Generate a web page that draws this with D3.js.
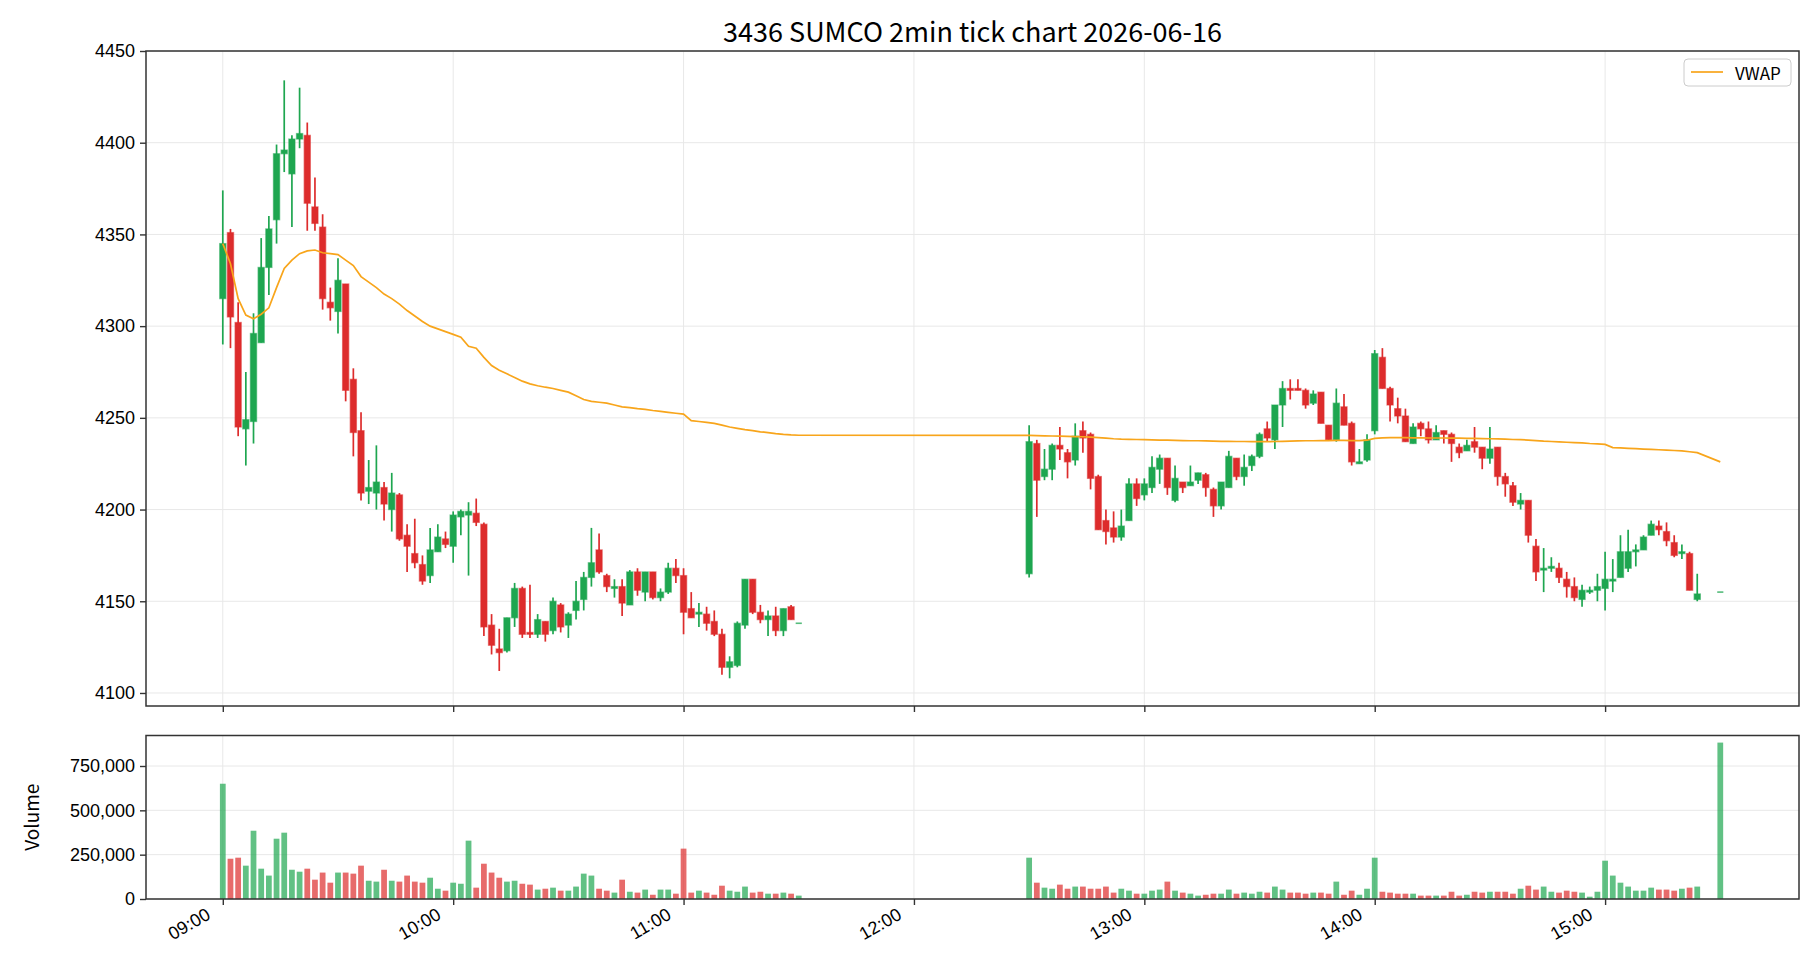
<!DOCTYPE html>
<html lang="en">
<head>
<meta charset="UTF-8">
<title>3436 SUMCO 2min tick chart 2026-06-16</title>
<script src="https://d3js.org/d3.v7.min.js"></script>
<style>
  body { margin: 0; background: #ffffff; }
  svg { font-family: "Noto Sans CJK JP", "Noto Sans", sans-serif; }
  .axis text { font-size: 18px; fill: #000; }
  .axis line { stroke: #333; stroke-width: 1.4; }
  .axis path { display: none; }
  .grid line { stroke: #e8e8e8; stroke-width: 1; }
  .frame { fill: none; stroke: #333; stroke-width: 1.5; }
</style>
</head>
<body>
<script>
// trading sessions, 2-minute bars (closing auction at 15:30)
const sessions = [["09:00", "11:30"], ["12:30", "15:24"], ["15:30", "15:30"]];

// OHLC, morning then afternoon
const opens = [
  4315, 4351, 4302, 4244, 4248, 4291, 4332, 4358, 4394, 4383, 4402, 4404, 4365, 4354, 4313, 4308,
  4323, 4271, 4243, 4210, 4209, 4212, 4200, 4208, 4186, 4176, 4170, 4164, 4177, 4184, 4180, 4196,
  4197, 4198, 4192, 4137, 4124, 4123, 4141, 4157, 4133, 4132, 4139, 4134, 4148, 4137, 4145, 4151,
  4163, 4178, 4164, 4157, 4158, 4148, 4166, 4155, 4166, 4152, 4155, 4168, 4164, 4146, 4143, 4143,
  4139, 4132, 4114, 4115, 4137, 4162, 4144, 4140, 4142, 4134, 4147, 4138,
  4165, 4236, 4218, 4222, 4235, 4231, 4227, 4243, 4241, 4218, 4194, 4190, 4185, 4194, 4214, 4208,
  4212, 4222, 4228, 4205, 4215, 4213, 4216, 4219, 4211, 4202, 4212, 4228, 4218, 4224, 4229, 4244,
  4238, 4257, 4266, 4266, 4265, 4258, 4264, 4246, 4238, 4256, 4247, 4225, 4227, 4243, 4283, 4266,
  4255, 4251, 4236, 4247, 4244, 4238, 4243, 4241, 4234, 4232, 4237, 4234, 4228, 4234, 4218, 4213,
  4203, 4205, 4180, 4167, 4168, 4168, 4162, 4158, 4151, 4155, 4156, 4157, 4161, 4163, 4168, 4177,
  4178, 4186, 4191, 4188, 4182, 4176, 4176, 4151, 4155
];
const highs = [
  4374, 4353, 4313, 4275, 4307, 4348, 4360, 4399, 4434, 4404, 4430, 4411, 4381, 4361, 4321, 4337,
  4323, 4277, 4253, 4227, 4235, 4215, 4220, 4209, 4192, 4195, 4175, 4190, 4192, 4188, 4199, 4200,
  4204, 4206, 4193, 4143, 4135, 4141, 4160, 4158, 4159, 4143, 4139, 4152, 4149, 4144, 4161, 4166,
  4190, 4187, 4165, 4162, 4162, 4167, 4168, 4166, 4166, 4157, 4171, 4173, 4168, 4155, 4149, 4147,
  4145, 4135, 4120, 4139, 4162, 4162, 4148, 4145, 4147, 4146, 4148, 4138,
  4246, 4238, 4233, 4236, 4245, 4233, 4247, 4248, 4242, 4219, 4200, 4199, 4200, 4217, 4217, 4217,
  4229, 4230, 4228, 4224, 4215, 4224, 4220, 4220, 4212, 4215, 4232, 4228, 4230, 4230, 4242, 4248,
  4257, 4270, 4271, 4271, 4266, 4265, 4264, 4246, 4266, 4263, 4248, 4233, 4241, 4287, 4288, 4267,
  4261, 4255, 4247, 4248, 4248, 4246, 4243, 4242, 4236, 4238, 4245, 4234, 4245, 4234, 4220, 4215,
  4209, 4205, 4184, 4179, 4174, 4171, 4166, 4163, 4159, 4158, 4165, 4177, 4173, 4186, 4189, 4181,
  4186, 4194, 4194, 4193, 4186, 4181, 4177, 4165, 4155
];
const lows = [
  4290, 4288, 4240, 4224, 4236, 4291, 4317, 4345, 4384, 4354, 4397, 4352, 4352, 4309, 4303, 4296,
  4259, 4229, 4205, 4203, 4200, 4194, 4188, 4183, 4166, 4168, 4159, 4160, 4177, 4179, 4171, 4186,
  4164, 4191, 4131, 4121, 4112, 4122, 4136, 4130, 4130, 4130, 4128, 4132, 4133, 4130, 4140, 4145,
  4158, 4165, 4155, 4152, 4142, 4148, 4153, 4150, 4151, 4150, 4154, 4160, 4132, 4141, 4136, 4134,
  4131, 4110, 4108, 4114, 4135, 4143, 4138, 4131, 4131, 4131, 4140, 4138,
  4163, 4196, 4216, 4216, 4227, 4217, 4224, 4231, 4211, 4189, 4181, 4182, 4183, 4194, 4202, 4205,
  4209, 4214, 4208, 4204, 4209, 4213, 4214, 4207, 4196, 4200, 4212, 4216, 4213, 4221, 4228, 4237,
  4233, 4245, 4260, 4265, 4255, 4257, 4247, 4238, 4237, 4246, 4224, 4225, 4226, 4241, 4266, 4248,
  4247, 4237, 4236, 4240, 4236, 4238, 4236, 4226, 4228, 4232, 4231, 4222, 4225, 4213, 4207, 4202,
  4200, 4182, 4161, 4155, 4166, 4160, 4152, 4150, 4147, 4154, 4150, 4145, 4155, 4163, 4166, 4169,
  4178, 4186, 4186, 4180, 4174, 4173, 4156, 4150, 4155
];
const closes = [
  4345, 4305, 4245, 4249, 4296, 4332, 4353, 4394, 4396, 4402, 4405, 4367, 4356, 4315, 4310, 4325,
  4265, 4242, 4209, 4212, 4215, 4203, 4209, 4184, 4180, 4171, 4161, 4178, 4185, 4181, 4197, 4199,
  4199, 4193, 4136, 4126, 4122, 4141, 4157, 4132, 4132, 4140, 4132, 4150, 4136, 4143, 4150, 4163,
  4171, 4166, 4158, 4158, 4149, 4166, 4156, 4166, 4152, 4155, 4168, 4164, 4144, 4141, 4144, 4138,
  4132, 4114, 4117, 4138, 4162, 4144, 4140, 4142, 4134, 4146, 4140, 4138,
  4237, 4216, 4222, 4235, 4233, 4226, 4240, 4239, 4217, 4189, 4188, 4185, 4191, 4214, 4206, 4214,
  4223, 4228, 4212, 4217, 4212, 4215, 4220, 4212, 4202, 4215, 4229, 4218, 4223, 4229, 4241, 4239,
  4257, 4266, 4265, 4265, 4257, 4263, 4247, 4238, 4258, 4246, 4226, 4226, 4238, 4285, 4266, 4257,
  4251, 4237, 4245, 4244, 4238, 4242, 4241, 4236, 4231, 4235, 4234, 4228, 4233, 4218, 4214, 4204,
  4205, 4186, 4166, 4168, 4169, 4163, 4158, 4152, 4156, 4156, 4158, 4162, 4162, 4177, 4177, 4178,
  4185, 4192, 4189, 4183, 4175, 4177, 4156, 4154, 4155
];

// volume per bar, shares
const volumes = [
  650000, 227000, 233000, 188000, 385000, 171000, 132000, 340000, 374000, 165000, 154000, 171000,
  109000, 149000, 92000, 149000, 149000, 143000, 188000, 103000, 98000, 165000, 103000, 98000,
  132000, 98000, 92000, 120000, 58000, 47000, 92000, 86000, 329000, 64000, 199000, 149000,
  120000, 98000, 103000, 86000, 81000, 53000, 58000, 64000, 47000, 47000, 70000, 143000,
  132000, 58000, 47000, 36000, 109000, 41000, 36000, 53000, 24000, 53000, 53000, 30000,
  284000, 36000, 47000, 36000, 24000, 75000, 47000, 41000, 70000, 36000, 41000, 30000,
  30000, 36000, 30000, 19000,
  233000, 92000, 64000, 58000, 81000, 58000, 70000, 70000, 58000, 58000, 70000, 36000,
  58000, 47000, 30000, 30000, 47000, 53000, 98000, 47000, 36000, 30000, 19000, 24000,
  30000, 30000, 53000, 30000, 36000, 30000, 41000, 36000, 70000, 53000, 36000, 36000,
  30000, 36000, 36000, 30000, 98000, 24000, 47000, 24000, 58000, 233000, 41000, 36000,
  30000, 30000, 30000, 19000, 19000, 19000, 19000, 41000, 19000, 24000, 41000, 36000,
  41000, 41000, 41000, 30000, 58000, 75000, 53000, 70000, 41000, 36000, 47000, 41000,
  36000, 13000, 41000, 216000, 132000, 92000, 70000, 47000, 47000, 64000, 53000, 53000,
  47000, 58000, 64000, 70000, 882000
];

// cumulative VWAP at each bar
const vwap = [
  4345, 4334, 4315, 4306, 4304, 4306.5, 4310, 4321, 4331.5, 4336, 4339.5, 4341, 4341.5, 4340,
  4339.5, 4339, 4336, 4333, 4327, 4324, 4321, 4317.5, 4315, 4312, 4308.5, 4305.5, 4302.5, 4300,
  4298.5, 4297, 4295.5, 4294, 4289, 4288, 4283, 4278.5, 4276, 4274, 4272, 4270, 4268.5, 4267.5,
  4266.7, 4266, 4265, 4264, 4262, 4260, 4259, 4258.5, 4258, 4257, 4256, 4255.6, 4255, 4254.6,
  4254, 4253.5, 4253, 4252.5, 4252, 4248.5, 4248, 4247.5, 4247, 4246, 4245, 4244.3, 4243.6,
  4243, 4242.4, 4241.9, 4241.4, 4241, 4240.7, 4240.5,
  4240.4, 4240.3, 4240.2, 4240.1, 4240.0, 4239.9, 4239.8, 4239.7, 4239.5, 4239.2, 4238.9, 4238.6,
  4238.4, 4238.3, 4238.2, 4238.1, 4238.0, 4237.9, 4237.8, 4237.7, 4237.6, 4237.5, 4237.5, 4237.4,
  4237.3, 4237.2, 4237.2, 4237.1, 4237.1, 4237.0, 4237.0, 4237.0, 4237.1, 4237.2, 4237.3, 4237.4,
  4237.5, 4237.5, 4237.6, 4237.6, 4237.7, 4237.7, 4237.6, 4237.6, 4237.8, 4238.8, 4239.1, 4239.2,
  4239.2, 4239.2, 4239.1, 4239.1, 4239.0, 4239.0, 4239.0, 4238.9, 4238.9, 4238.8, 4238.8, 4238.7,
  4238.6, 4238.5, 4238.4, 4238.2, 4238.1, 4237.9, 4237.6, 4237.3, 4237.1, 4236.9, 4236.7, 4236.5,
  4236.3, 4236.0, 4235.8, 4235.5, 4233.8, 4233.6, 4233.4, 4233.2, 4233.0, 4232.8, 4232.6, 4232.4,
  4232.2, 4232.0, 4231.5, 4231.0, 4226.0
];

const priceTicks = [4100, 4150, 4200, 4250, 4300, 4350, 4400, 4450];
const volumeTicks = [0, 250000, 500000, 750000];
const hourTicks = ["09:00", "10:00", "11:00", "12:00", "13:00", "14:00", "15:00"];

const day = "2026-06-16";
const parseTime = d3.timeParse("%Y-%m-%d %H:%M");
const at = s => parseTime(`${day} ${s}`);

// expand sessions into bar times
const times = [];
sessions.forEach(([a, b]) => {
  for (let t = at(a); t <= at(b); t = d3.timeMinute.offset(t, 2)) times.push(t);
});

const bars = times.map((t, i) => ({
  t, o: opens[i], h: highs[i], l: lows[i], c: closes[i], v: volumes[i], w: vwap[i]
}));

const width = 1820, height = 980;
const left = 146, right = 1799;
const pTop = 51, pBottom = 706;
const vTop = 735.5, vBottom = 899;

const up = "#1ea650", down = "#dd2c2c";

const x = d3.scaleTime()
  .domain([d3.timeMinute.offset(at("09:00"), -20), d3.timeSecond.offset(at("15:50"), 30)])
  .range([left, right]);
const y = d3.scaleLinear().domain([4092.9, 4450]).range([pBottom, pTop]);
const yv = d3.scaleLinear().domain([0, 922000]).range([vBottom, vTop]);

const halfW = t => [x(d3.timeSecond.offset(t, -48)), x(d3.timeSecond.offset(t, 48))];
const halfV = t => [x(d3.timeSecond.offset(t, -45)), x(d3.timeSecond.offset(t, 45))];

const svg = d3.select("body").append("svg")
  .attr("width", width)
  .attr("height", height);

svg.append("rect").attr("width", width).attr("height", height).attr("fill", "#fff");

// title
svg.append("text")
  .attr("x", (left + right) / 2)
  .attr("y", 30)
  .attr("text-anchor", "middle")
  .attr("dominant-baseline", "central")
  .attr("font-size", 27)
  .text("3436 SUMCO 2min tick chart 2026-06-16");

// grids
const hourDates = hourTicks.map(at);
[[pTop, pBottom], [vTop, vBottom]].forEach(([t, b]) => {
  svg.append("g").attr("class", "grid")
    .selectAll("line").data(hourDates).join("line")
    .attr("x1", d => x(d)).attr("x2", d => x(d))
    .attr("y1", t).attr("y2", b);
});
svg.append("g").attr("class", "grid")
  .selectAll("line").data(priceTicks).join("line")
  .attr("x1", left).attr("x2", right)
  .attr("y1", d => y(d)).attr("y2", d => y(d));
svg.append("g").attr("class", "grid")
  .selectAll("line").data(volumeTicks).join("line")
  .attr("x1", left).attr("x2", right)
  .attr("y1", d => yv(d)).attr("y2", d => yv(d));

// candles
const candles = svg.append("g");
candles.selectAll("line").data(bars.filter(d => d.h > d.l)).join("line")
  .attr("x1", d => x(d.t)).attr("x2", d => x(d.t))
  .attr("y1", d => y(d.h)).attr("y2", d => y(d.l))
  .attr("stroke", d => d.c >= d.o ? up : down)
  .attr("stroke-width", 1.7);
candles.selectAll("rect").data(bars).join("rect")
  .attr("x", d => halfW(d.t)[0])
  .attr("width", d => halfW(d.t)[1] - halfW(d.t)[0])
  .attr("y", d => d.o === d.c ? y(d.c) - 0.8 : y(Math.max(d.o, d.c)))
  .attr("height", d => Math.max(1.6, Math.abs(y(d.o) - y(d.c))))
  .attr("fill", d => d.c >= d.o ? up : down)
  .attr("stroke", d => d.c >= d.o ? up : down)
  .attr("stroke-opacity", d => d.o === d.c ? 0 : 0.55)
  .attr("fill-opacity", d => d.o === d.c ? 0.75 : 1)
  .attr("stroke-width", 1.3);

// vwap line
svg.append("path")
  .datum(bars)
  .attr("fill", "none")
  .attr("stroke", "#f8a51b")
  .attr("stroke-width", 1.7)
  .attr("d", d3.line().x(d => x(d.t)).y(d => y(d.w)));

// volume bars
svg.append("g").selectAll("rect").data(bars).join("rect")
  .attr("x", d => halfV(d.t)[0])
  .attr("width", d => halfV(d.t)[1] - halfV(d.t)[0])
  .attr("y", d => yv(d.v))
  .attr("height", d => yv(0) - yv(d.v))
  .attr("fill", d => d.c >= d.o ? up : down)
  .attr("fill-opacity", 0.7);

// axes
svg.append("g").attr("class", "axis")
  .attr("transform", `translate(${left},0)`)
  .call(d3.axisLeft(y).tickValues(priceTicks).tickFormat(d3.format("d")).tickSize(6).tickPadding(5));
svg.append("g").attr("class", "axis")
  .attr("transform", `translate(${left},0)`)
  .call(d3.axisLeft(yv).tickValues(volumeTicks).tickFormat(d3.format(",")).tickSize(6).tickPadding(5));
svg.append("g").attr("class", "axis")
  .attr("transform", `translate(0,${pBottom})`)
  .call(d3.axisBottom(x).tickValues(hourDates).tickFormat("").tickSize(6));
const xAxis = svg.append("g").attr("class", "axis")
  .attr("transform", `translate(0,${vBottom})`)
  .call(d3.axisBottom(x).tickValues(hourDates).tickFormat(d3.timeFormat("%H:%M")).tickSize(6));
xAxis.selectAll("text")
  .attr("text-anchor", "end")
  .attr("dy", null)
  .attr("y", null)
  .attr("dominant-baseline", "hanging")
  .attr("transform", "translate(-18,8) rotate(-30)");

// frames
svg.append("rect").attr("class", "frame")
  .attr("x", left).attr("y", pTop).attr("width", right - left).attr("height", pBottom - pTop);
svg.append("rect").attr("class", "frame")
  .attr("x", left).attr("y", vTop).attr("width", right - left).attr("height", vBottom - vTop);

// volume label
svg.append("text")
  .attr("transform", `translate(30,${(vTop + vBottom) / 2}) rotate(-90)`)
  .attr("text-anchor", "middle")
  .attr("dominant-baseline", "central")
  .attr("font-size", 19)
  .text("Volume");

// legend
const legend = svg.append("g").attr("transform", "translate(1684,59)");
legend.append("rect")
  .attr("width", 107).attr("height", 27).attr("rx", 4)
  .attr("fill", "#fff").attr("fill-opacity", 0.8)
  .attr("stroke", "#cccccc");
legend.append("line")
  .attr("x1", 7).attr("x2", 39).attr("y1", 13).attr("y2", 13)
  .attr("stroke", "#f8a51b").attr("stroke-width", 1.7);
legend.append("text")
  .attr("x", 51).attr("y", 13.5)
  .attr("dominant-baseline", "central")
  .attr("font-size", 17)
  .text("VWAP");
</script>
</body>
</html>
